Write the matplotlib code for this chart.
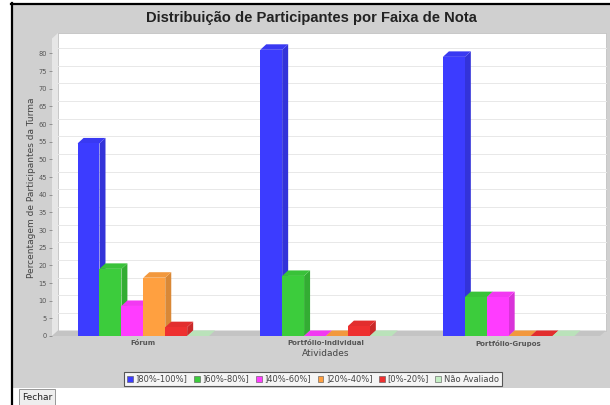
import matplotlib
matplotlib.use("Agg")
import matplotlib.pyplot as plt
from matplotlib.patches import Rectangle, Polygon, Patch
from matplotlib.lines import Line2D
import numpy as np

W, H = 610, 405

categories = ["Fórum", "Portfólio-Individual", "Portfólio-Grupos"]
series_labels = ["]80%-100%]", "]60%-80%]", "]40%-60%]", "]20%-40%]", "[0%-20%]", "Não Avaliado"]
faixa_80_100 = [54.5, 81, 79]
faixa_60_80 = [19, 17, 11]
faixa_40_60 = [8.5, 0, 11]
faixa_20_40 = [16.5, 0, 0]
faixa_0_20 = [2.5, 2.8, 0]
nao_avaliado = [0, 0, 0]
series_values = [faixa_80_100, faixa_60_80, faixa_40_60, faixa_20_40, faixa_0_20, nao_avaliado]
y_ticks = list(range(0, 85, 5))

COLORS = ["#3c3cff", "#3ccc3c", "#ff3cff", "#ffa040", "#ee3030", "#c4eec4"]
PANEL = "#d0d0d0"
WALL = "#e6e6e6"
FLOOR = "#c4c4c4"
GRID = "#e8e8e8"

# 3d offset in pixels
DX_PX, DY_PX = 6, 5.5
LEFT, RIGHT = 52, 600       # front plane, px
TOP, BOTTOM = 38.5, 336
Y_MAX = 84.2
X_MIN, X_MAX = -0.5, 2.5
BAR_W = 0.12


def darker(c, f=0.8):
    r, g, b = matplotlib.colors.to_rgb(c)
    return (r * f, g * f, b * f)


def fx(x):
    return x / W


def fy(y):
    return 1 - y / H


fig = plt.figure(figsize=(W / 100, H / 100), dpi=100)
fig.patch.set_facecolor("white")

# chart panel + borders
fig.patches.append(Rectangle((fx(13), fy(388)), fx(610) - fx(13), fy(5) - fy(388),
                             transform=fig.transFigure, fc=PANEL, ec="none", zorder=-5))
fig.lines.append(Line2D([fx(11), fx(610)], [fy(3.5), fy(3.5)], transform=fig.transFigure,
                        color="black", lw=1.6))
fig.lines.append(Line2D([fx(11.5), fx(11.5)], [fy(3), fy(405)], transform=fig.transFigure,
                        color="black", lw=1.6))

ax = fig.add_axes([fx(LEFT), fy(BOTTOM), fx(RIGHT) - fx(LEFT), fy(TOP) - fy(BOTTOM)])
ax.set_xlim(X_MIN, X_MAX)
ax.set_ylim(0, Y_MAX)
ax.patch.set_alpha(0)
for s in ax.spines.values():
    s.set_visible(False)

dx = DX_PX * (X_MAX - X_MIN) / (RIGHT - LEFT)
dy = DY_PX * Y_MAX / (BOTTOM - TOP)

# walls
ax.add_patch(Rectangle((X_MIN + dx, dy), X_MAX - X_MIN, Y_MAX, fc="white", ec="#bbbbbb",
                       lw=0.5, zorder=0.1, clip_on=False))
ax.add_patch(Polygon([(X_MIN, 0), (X_MIN + dx, dy), (X_MIN + dx, Y_MAX + dy), (X_MIN, Y_MAX)],
                     fc=WALL, ec="none", zorder=0.2, clip_on=False))
ax.add_patch(Polygon([(X_MIN, 0), (X_MAX, 0), (X_MAX + dx, dy), (X_MIN + dx, dy)],
                     fc=FLOOR, ec="none", zorder=0.2, clip_on=False))
for t in y_ticks[1:]:
    ax.plot([X_MIN + dx, X_MAX + dx], [t + dy, t + dy], color=GRID, lw=0.7,
            zorder=0.3, clip_on=False)

# 3d bars
x = np.arange(len(categories))
z = 1
for i in range(len(categories)):
    for j, vals in enumerate(series_values):
        v = vals[i]
        x0 = x[i] + (j - len(series_values) / 2) * BAR_W
        x1 = x0 + BAR_W
        col = COLORS[j]
        ax.add_patch(Polygon([(x1, 0), (x1 + dx, dy), (x1 + dx, v + dy), (x1, v)],
                             fc=darker(col, 0.85), ec="none", zorder=z, clip_on=False))
        ax.add_patch(Polygon([(x0, v), (x0 + dx, v + dy), (x1 + dx, v + dy), (x1, v)],
                             fc=darker(col, 0.95), ec="none", zorder=z, clip_on=False))
        ax.bar(x0, v, BAR_W, align="edge", color=col, zorder=z + 0.5, clip_on=False)
        z += 1

ax.set_yticks(y_ticks)
ax.set_yticklabels([str(t) for t in y_ticks], fontsize=4.8, color="#555555")
ax.tick_params(axis="y", length=2, width=0.6, color="#888888", pad=1.5)
ax.set_xticks(x)
ax.set_xticklabels(categories, fontsize=5, fontweight="bold", color="#555555")
ax.tick_params(axis="x", length=0, pad=3)
ax.set_xlabel("Atividades", fontsize=6.5, color="#444444", labelpad=1.5)
ax.set_ylabel("Percentagem de Participantes da Turma", fontsize=6.5, color="#444444", labelpad=2)

fig.text(fx(311), fy(18), "Distribuição de Participantes por Faixa de Nota",
         ha="center", va="center", fontsize=10.6, fontweight="bold",
         family="Liberation Sans", color="#222222")

handles = [Patch(fc=c, ec="#555555", lw=0.4) for c in COLORS]
leg = fig.legend(handles, series_labels, loc="center", bbox_to_anchor=(fx(313), fy(379)),
                 ncol=6, fontsize=6, frameon=True, fancybox=False, edgecolor="#333333",
                 handlelength=0.7, handleheight=0.7, handletextpad=0.3, columnspacing=0.8,
                 borderpad=0.35, borderaxespad=0)
leg.get_frame().set_linewidth(0.8)
for t in leg.get_texts():
    t.set_color("#444444")

fig.text(fx(37), fy(397), "Fechar", ha="center", va="center", fontsize=6.5, color="#222222",
         bbox=dict(boxstyle="square,pad=0.35", fc="#eeeeee", ec="#888888", lw=0.6))

fig.savefig("out.png", dpi=100)
